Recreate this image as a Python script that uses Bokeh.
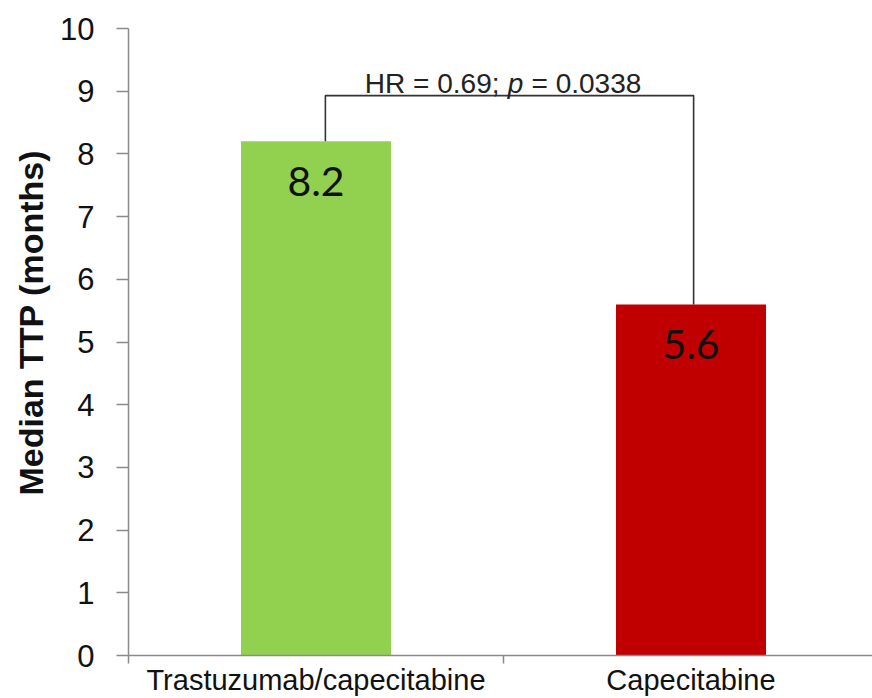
from bokeh.plotting import figure
from bokeh.models import Range1d, FixedTicker, ColumnDataSource, Title
from bokeh.core.properties import value
from bokeh.embed import file_html
from bokeh.resources import INLINE

# Data
categories = ["Trastuzumab/capecitabine", "Capecitabine"]
median_ttp = [8.2, 5.6]
bar_colors = ["#92D050", "#C00000"]
y_ticks = [0, 1, 2, 3, 4, 5, 6, 7, 8, 9, 10]
y_title = "Median TTP (months)"
hr_label = "HR = 0.69;"
p_symbol = "p"
p_label = "= 0.0338"

AXIS_GREY = "#8a8a8a"
TEXT_DARK = "#111111"

# one unit of x per category, bars centred in their slot
positions = [i + 0.5 for i in range(len(categories))]
boundaries = [float(i) for i in range(len(categories) + 1)]

p = figure(
    width=872, height=698,
    x_range=Range1d(0, 1.984), y_range=Range1d(0, 10),
    output_backend="svg", toolbar_location=None,
    min_border_left=128, min_border_right=0,
    min_border_top=28, min_border_bottom=43,
)
p.outline_line_color = None
p.grid.visible = False
p.background_fill_color = "white"
p.border_fill_color = "white"

src = ColumnDataSource(dict(
    x=positions,
    top=median_ttp,
    color=bar_colors,
    label=[f"{v:.1f}" for v in median_ttp],
))

p.vbar(x="x", top="top", bottom=0, width=0.4, source=src,
       fill_color="color", line_color=None)

# value labels inside the top of each bar
p.text(x="x", y="top", text="label", source=src,
       text_align="center", text_baseline="middle", y_offset=40,
       text_font=value("Lato"), text_font_size="41px", text_color=TEXT_DARK)

# significance bracket between the two bars
bracket_y = 8.93
left_x = positions[0] + 0.025
right_x = positions[1] + 0.007
p.line(x=[left_x, left_x, right_x, right_x],
       y=[median_ttp[0], bracket_y, bracket_y, median_ttp[1]],
       line_color="#333333", line_width=1.6)

p_x = 1.032
p.text(x=[p_x], y=[bracket_y], text=[hr_label], text_align="right",
       text_baseline="alphabetic", x_offset=-16, y_offset=-12,
       text_font=value("Liberation Sans"), text_font_size="28px",
       text_color="#222222")
p.text(x=[p_x], y=[bracket_y], text=[p_symbol], text_align="center",
       text_baseline="alphabetic", y_offset=-12,
       text_font=value("Liberation Sans"), text_font_style="italic",
       text_font_size="28px", text_color="#222222")
p.text(x=[p_x], y=[bracket_y], text=[p_label], text_align="left",
       text_baseline="alphabetic", x_offset=16, y_offset=-12,
       text_font=value("Liberation Sans"), text_font_size="28px",
       text_color="#222222")

# x axis: category names centred, tick marks at slot boundaries
xa = p.xaxis[0]
xa.ticker = FixedTicker(ticks=positions, minor_ticks=boundaries)
xa.major_label_overrides = {pos: name for pos, name in zip(positions, categories)}
xa.major_tick_out = 0
xa.major_tick_in = 0
xa.minor_tick_out = 8
xa.minor_tick_in = 0
xa.minor_tick_line_color = AXIS_GREY
xa.minor_tick_line_width = 1.5
xa.axis_line_color = AXIS_GREY
xa.axis_line_width = 1.5
xa.major_label_standoff = 0
xa.major_label_text_font = "Liberation Sans"
xa.major_label_text_font_size = "29px"
xa.major_label_text_color = TEXT_DARK

# y axis
ya = p.yaxis[0]
ya.ticker = FixedTicker(ticks=y_ticks)
ya.major_tick_out = 12
ya.major_tick_in = 0
ya.minor_tick_line_color = None
ya.major_tick_line_color = AXIS_GREY
ya.major_tick_line_width = 1.5
ya.axis_line_color = AXIS_GREY
ya.axis_line_width = 1.5
ya.major_label_standoff = 22
ya.major_label_text_font = "Liberation Sans"
ya.major_label_text_font_size = "31px"
ya.major_label_text_color = TEXT_DARK

# rotated y title in the left panel, starting a fixed distance above the axis origin
p.add_layout(Title(
    text=y_title, align="left", offset=160, standoff=16,
    text_font="Liberation Sans", text_font_style="bold",
    text_font_size="34px", text_color=TEXT_DARK,
), "left")

open("out.html", "w").write(file_html(p, INLINE))
